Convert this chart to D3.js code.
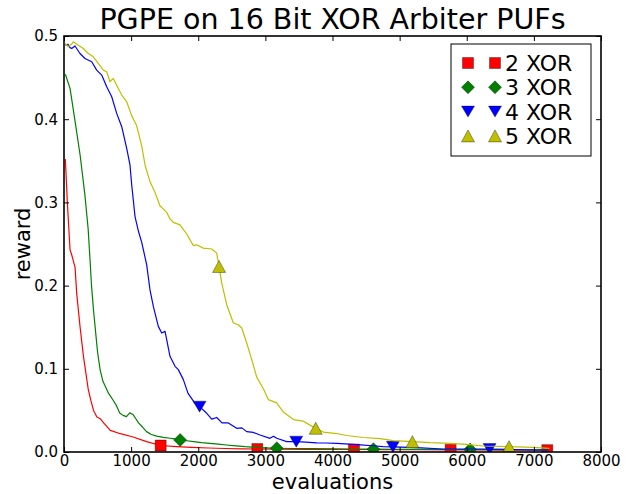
<!DOCTYPE html>
<html>
<head>
<meta charset="utf-8">
<script src="https://cdn.jsdelivr.net/npm/d3@7"></script>
<style>
  html, body { margin: 0; padding: 0; background: #fff; }
  svg { display: block; font-family: "DejaVu Sans", sans-serif; }
</style>
</head>
<body>
<svg id="chart" width="631" height="494"></svg>
<script>
// Reward curves for PGPE runs against XOR arbiter PUFs (16 bit).
const seriesNames = ["2 XOR", "3 XOR", "4 XOR", "5 XOR"];

const evals2Xor = [20, 50, 90, 115, 165, 190, 240, 290, 360, 400, 440, 490, 540, 590, 690, 840, 1030, 1230, 1440, 1680, 1900, 2150, 2400, 2650, 2880, 3200, 3600, 4000, 4320, 4800, 5300, 5760, 6300, 6800, 7200];
const reward2Xor = [0.352, 0.300, 0.243, 0.237, 0.222, 0.190, 0.150, 0.115, 0.076, 0.062, 0.050, 0.042, 0.040, 0.035, 0.026, 0.022, 0.018, 0.0124, 0.0078, 0.0064, 0.0055, 0.0048, 0.0042, 0.0038, 0.0036, 0.0034, 0.0032, 0.0031, 0.0030, 0.0029, 0.0027, 0.0026, 0.0024, 0.0023, 0.0022];
const marks2Xor = [1440, 2880, 4320, 5760, 7200];

const evals3Xor = [20, 90, 160, 240, 310, 360, 390, 410, 440, 470, 500, 540, 580, 620, 660, 730, 780, 830, 880, 930, 980, 1030, 1070, 1110, 1170, 1230, 1300, 1380, 1480, 1580, 1650, 1730, 1830, 1930, 2050, 2170, 2300, 2420, 2560, 2700, 2850, 3000, 3170, 3400, 3700, 4000, 4300, 4610, 4900, 5200, 5500, 5800, 6050, 6400, 6800, 7200];
const reward3Xor = [0.454, 0.437, 0.400, 0.357, 0.310, 0.268, 0.228, 0.200, 0.170, 0.145, 0.120, 0.098, 0.085, 0.078, 0.071, 0.0625, 0.056, 0.047, 0.044, 0.0425, 0.047, 0.045, 0.040, 0.035, 0.030, 0.0245, 0.021, 0.019, 0.0175, 0.0165, 0.0158, 0.0145, 0.0135, 0.0124, 0.0112, 0.0104, 0.0094, 0.0084, 0.0074, 0.0064, 0.0056, 0.0050, 0.0045, 0.0042, 0.0040, 0.0038, 0.0036, 0.0034, 0.0033, 0.0032, 0.0031, 0.0030, 0.0030, 0.0028, 0.0027, 0.0026];
const marks3Xor = [1730, 3170, 4610, 6050];

const evals4Xor = [20, 60, 90, 115, 164, 238, 313, 413, 487, 562, 636, 711, 785, 860, 934, 983, 1009, 1058, 1110, 1158, 1232, 1281, 1331, 1405, 1456, 1505, 1530, 1579, 1654, 1703, 1778, 1848, 1952, 2020, 2126, 2201, 2275, 2354, 2448, 2573, 2650, 2722, 2820, 2920, 3069, 3120, 3169, 3318, 3460, 3600, 3765, 3900, 4063, 4250, 4410, 4600, 4753, 4900, 5255, 5647, 6000, 6340, 6700, 6988, 7220];
const reward4Xor = [0.489, 0.490, 0.486, 0.485, 0.488, 0.479, 0.473, 0.469, 0.459, 0.453, 0.439, 0.427, 0.407, 0.391, 0.365, 0.345, 0.321, 0.283, 0.265, 0.252, 0.225, 0.195, 0.175, 0.151, 0.143, 0.145, 0.135, 0.115, 0.103, 0.099, 0.087, 0.0705, 0.0585, 0.0545, 0.0465, 0.0395, 0.0415, 0.035, 0.035, 0.0285, 0.029, 0.0245, 0.0235, 0.0204, 0.0164, 0.019, 0.0165, 0.0124, 0.0124, 0.0118, 0.0110, 0.0108, 0.0104, 0.0095, 0.0086, 0.0075, 0.0064, 0.0062, 0.0052, 0.0036, 0.0036, 0.0036, 0.0030, 0.0024, 0.0024];
const marks4Xor = [2020, 3460, 4900, 6340];

const evals5Xor = [20, 64, 110, 139, 213, 288, 362, 437, 511, 586, 636, 685, 735, 809, 860, 934, 1009, 1083, 1158, 1207, 1281, 1356, 1430, 1480, 1530, 1580, 1629, 1728, 1828, 1927, 1977, 2076, 2200, 2275, 2310, 2350, 2424, 2523, 2597, 2648, 2722, 2797, 2871, 2970, 3044, 3169, 3268, 3417, 3566, 3640, 3750, 3864, 4063, 4212, 4460, 4708, 4907, 5190, 5453, 5751, 6000, 6248, 6630, 6993, 7230];
const reward5Xor = [0.491, 0.487, 0.490, 0.493, 0.489, 0.485, 0.479, 0.475, 0.467, 0.459, 0.457, 0.445, 0.449, 0.437, 0.429, 0.421, 0.404, 0.392, 0.368, 0.345, 0.325, 0.312, 0.296, 0.292, 0.288, 0.280, 0.276, 0.273, 0.262, 0.248, 0.249, 0.245, 0.244, 0.239, 0.223, 0.203, 0.177, 0.155, 0.153, 0.149, 0.131, 0.111, 0.090, 0.076, 0.063, 0.059, 0.048, 0.039, 0.037, 0.0335, 0.0285, 0.024, 0.0222, 0.0198, 0.0174, 0.016, 0.0136, 0.0124, 0.0112, 0.0104, 0.0092, 0.0072, 0.0064, 0.0056, 0.0044];
const marks5Xor = [2310, 3750, 5190, 6630];

const xTicks = [0, 1000, 2000, 3000, 4000, 5000, 6000, 7000, 8000];
const yTicks = [0.0, 0.1, 0.2, 0.3, 0.4, 0.5];

const colors = ["#ff0000", "#008000", "#0000ff", "#bfbf00"];
const markerKinds = ["square", "diamond", "triangleDown", "triangleUp"];

const series = [
  { evals: evals2Xor, reward: reward2Xor, marks: marks2Xor },
  { evals: evals3Xor, reward: reward3Xor, marks: marks3Xor },
  { evals: evals4Xor, reward: reward4Xor, marks: marks4Xor },
  { evals: evals5Xor, reward: reward5Xor, marks: marks5Xor }
].map((s, i) => ({
  ...s,
  name: seriesNames[i],
  color: colors[i],
  kind: markerKinds[i],
  points: s.evals.map((e, j) => [e, s.reward[j]])
}));

const svg = d3.select("#chart");
const plotLeft = 64, plotRight = 601, plotTop = 36, plotBottom = 452;

const x = d3.scaleLinear().domain([0, 8000]).range([plotLeft, plotRight]);
const y = d3.scaleLinear().domain([0, 0.5]).range([plotBottom, plotTop]);

// Marker shapes, centred on the origin
function markerPath(kind) {
  if (kind === "square") return "M-5.5,-5.5H5.5V5.5H-5.5Z";
  if (kind === "diamond") return "M0,-6.5L6.5,0L0,6.5L-6.5,0Z";
  if (kind === "triangleDown") return "M-6.5,-5.5L6.5,-5.5L0,5.5Z";
  return "M0,-6L6.5,6L-6.5,6Z";
}

// Reward at a given evaluation count
function rewardAt(s, e) {
  const i = d3.bisector(d => d[0]).left(s.points, e);
  if (i <= 0) return s.points[0][1];
  if (i >= s.points.length) return s.points[s.points.length - 1][1];
  const [x0, y0] = s.points[i - 1], [x1, y1] = s.points[i];
  return y0 + (y1 - y0) * (e - x0) / (x1 - x0);
}

svg.append("defs").append("clipPath").attr("id", "plot-clip")
  .append("rect").attr("x", plotLeft).attr("y", plotTop)
  .attr("width", plotRight - plotLeft).attr("height", plotBottom - plotTop);

const plot = svg.append("g").attr("clip-path", "url(#plot-clip)");
const line = d3.line().x(d => x(d[0])).y(d => y(d[1]));

series.forEach(s => {
  plot.append("path")
    .datum(s.points)
    .attr("d", line)
    .attr("fill", "none")
    .attr("stroke", s.color)
    .attr("stroke-width", 1.2)
    .attr("stroke-linejoin", "round");
  plot.selectAll(null)
    .data(s.marks)
    .enter().append("path")
    .attr("d", markerPath(s.kind))
    .attr("transform", e => `translate(${x(e)},${y(rewardAt(s, e))})`)
    .attr("fill", s.color)
    .attr("stroke", "#000")
    .attr("stroke-opacity", 0.6)
    .attr("stroke-width", 0.6);
});

// Axes with inward ticks on all four sides
const tickLen = 5;
const fmtX = d3.format("d");
const fmtY = d3.format(".1f");

const gx = svg.append("g").attr("transform", `translate(0,${plotBottom})`)
  .call(d3.axisBottom(x).tickValues(xTicks).tickFormat(fmtX).tickSize(-tickLen).tickPadding(3));
const gxTop = svg.append("g").attr("transform", `translate(0,${plotTop})`)
  .call(d3.axisTop(x).tickValues(xTicks).tickFormat("").tickSize(-tickLen));
const gy = svg.append("g").attr("transform", `translate(${plotLeft},0)`)
  .call(d3.axisLeft(y).tickValues(yTicks).tickFormat(fmtY).tickSize(-tickLen).tickPadding(6));
const gyRight = svg.append("g").attr("transform", `translate(${plotRight},0)`)
  .call(d3.axisRight(y).tickValues(yTicks).tickFormat("").tickSize(-tickLen));

[gx, gxTop, gy, gyRight].forEach(g => {
  g.select(".domain").remove();
  g.selectAll(".tick line").attr("stroke", "#000").attr("stroke-width", 1);
  g.selectAll(".tick text")
    .attr("font-family", "DejaVu Sans, sans-serif")
    .attr("font-size", 15)
    .attr("fill", "#000");
});

// Frame
svg.append("rect")
  .attr("x", plotLeft).attr("y", plotTop)
  .attr("width", plotRight - plotLeft).attr("height", plotBottom - plotTop)
  .attr("fill", "none").attr("stroke", "#000").attr("stroke-width", 1.6);

// Title and axis labels
svg.append("text")
  .attr("x", (plotLeft + plotRight) / 2).attr("y", 29)
  .attr("text-anchor", "middle")
  .attr("font-size", 28.5)
  .text("PGPE on 16 Bit XOR Arbiter PUFs");

svg.append("text")
  .attr("x", (plotLeft + plotRight) / 2).attr("y", 489)
  .attr("text-anchor", "middle")
  .attr("font-size", 21)
  .text("evaluations");

svg.append("text")
  .attr("transform", `translate(30,${(plotTop + plotBottom) / 2}) rotate(-90)`)
  .attr("text-anchor", "middle")
  .attr("font-size", 21)
  .text("reward");

// Legend
const legend = svg.append("g");
legend.append("rect")
  .attr("x", 451).attr("y", 44)
  .attr("width", 140).attr("height", 112)
  .attr("fill", "#fff").attr("stroke", "#000").attr("stroke-width", 1);

series.forEach((s, i) => {
  const cy = 63 + i * 24.3;
  [468, 495].forEach(cx => {
    legend.append("path")
      .attr("d", markerPath(s.kind))
      .attr("transform", `translate(${cx},${cy})`)
      .attr("fill", s.color)
      .attr("stroke", "#000")
      .attr("stroke-opacity", 0.6)
      .attr("stroke-width", 0.6);
  });
  legend.append("text")
    .attr("x", 505).attr("y", cy + 8)
    .attr("font-size", 22)
    .text(s.name);
});
</script>
</body>
</html>
